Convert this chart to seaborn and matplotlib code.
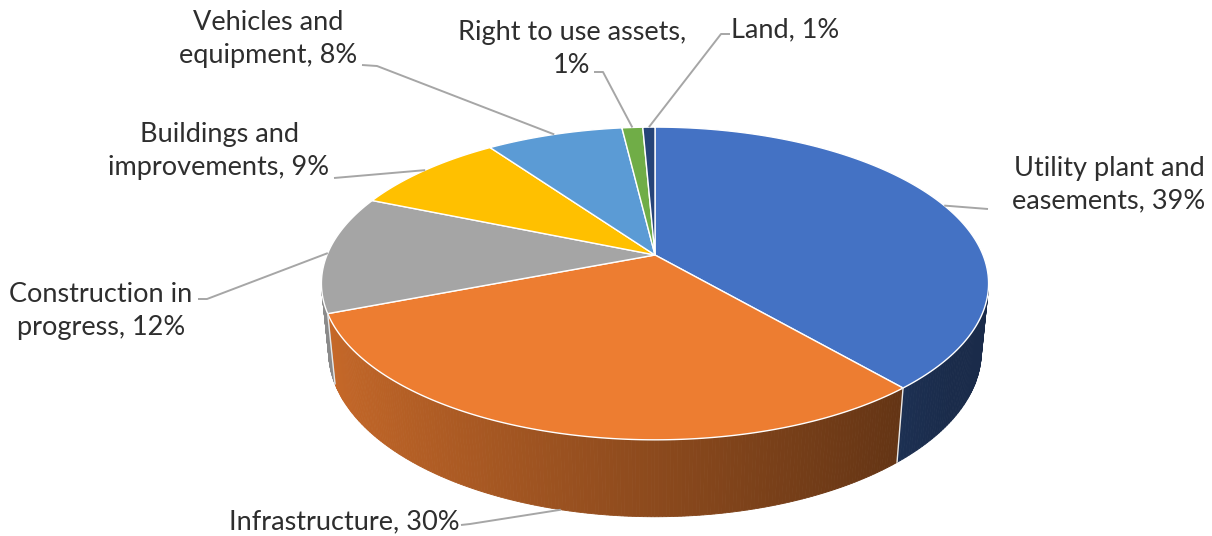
import numpy as np
import matplotlib
matplotlib.use("Agg")
import matplotlib.pyplot as plt
from matplotlib.colors import to_rgb
import seaborn as sns

# --- Data ---
categories = ["Utility plant and\neasements", "Infrastructure", "Construction in\nprogress",
              "Buildings and\nimprovements", "Vehicles and\nequipment",
              "Right to use assets", "Land"]
shares = [38.7, 30.4, 12.2, 8.9, 7.9, 1.2, 0.7]   # percent of total capital assets
label_sep = [", ", ", ", ", ", ", ", ", ", ",\n", ", "]

# Office-style palette
slice_colors = sns.color_palette(["#4472C4", "#ED7D31", "#A5A5A5", "#FFC000",
                                  "#5B9BD5", "#70AD47", "#264478"])

# --- Layout (pixels) ---
HUB = (655, 255)          # where the slices meet on screen
FOCAL = 1630              # perspective scale
X_SQUEEZE = 0.985         # slight horizontal squeeze of the drawing
DIST = 4.895              # camera distance (in pie radii)
ELEV = np.radians(27)     # camera elevation
THICK = 0.231             # pie thickness (in pie radii)

# label block centres and leader polylines (label side); the leader end is on the slice rim
label_pos = [(1109, 185), (344, 522), (101, 311), (219, 151), (268, 39), (572, 49), (785, 30)]
leader_start = [[(988, 209)], [(461, 525), (470, 524)], [(198, 299), (207, 299)],
                [(334, 178)], [(362, 65), (377, 66)], [(594, 72), (603, 72)],
                [(730, 34), (721, 34)]]
anchor_bottom = [False, True, False, False, False, False, False]


def project(t, z=0.0):
    """Project a point of the unit pie rim (angle t, height z) to pixels."""
    c, s = np.cos(ELEV), np.sin(ELEV)
    x, y = np.cos(t), np.sin(t)
    depth = DIST + y * c - z * s
    up = y * s + z * c
    return HUB[0] + X_SQUEEZE * FOCAL * x / depth, HUB[1] - FOCAL * up / depth


sns.set_theme(style="white")
plt.rcParams["font.family"] = ["Lato", "DejaVu Sans"]

fig = plt.figure(figsize=(12.12, 5.36), dpi=100)
ax = fig.add_axes([0, 0, 1, 1])
ax.set_xlim(0, 1212)
ax.set_ylim(536, 0)
ax.axis("off")

# slice edges, clockwise from 12 o'clock
edges = np.radians(90 - 360 * np.concatenate([[0], np.cumsum(shares)]) / np.sum(shares))
visible_limit = -1 / (DIST * np.cos(ELEV))   # side wall faces the camera when sin(t) < this

# side wall, drawn in thin shaded strips
for i, col in enumerate(slice_colors):
    ts = np.linspace(edges[i], edges[i + 1], 200)
    base = np.array(to_rgb(col))
    for t0, t1 in zip(ts[:-1], ts[1:]):
        tm = 0.5 * (t0 + t1)
        if np.sin(tm) >= visible_limit:
            continue
        shade = np.clip(0.59 - 0.26 * np.cos(tm), 0.38, 0.9)
        xa, ya = project(t0)
        xb, yb = project(t1)
        xc, yc = project(t1, -THICK)
        xd, yd = project(t0, -THICK)
        ax.fill([xa, xb, xc, xd], [ya, yb, yc, yd], color=base * shade, lw=0.6,
                edgecolor=base * shade)

# light seams on the side between slices
for t in edges:
    if np.sin(t) < visible_limit:
        xa, ya = project(t)
        xd, yd = project(t, -THICK)
        ax.plot([xa, xd], [ya, yd], color="#E8E8E8", lw=1.0)

# top face
for i, col in enumerate(slice_colors):
    ts = np.linspace(edges[i], edges[i + 1], 300)
    xs, ys = project(ts)
    ax.fill(np.r_[HUB[0], xs], np.r_[HUB[1], ys], facecolor=col,
            edgecolor="white", lw=1.0, joinstyle="round")

# labels and leader lines
for i, name in enumerate(categories):
    pct = int(round(shares[i]))
    ax.text(label_pos[i][0], label_pos[i][1], f"{name}{label_sep[i]}{pct}%",
            ha="center", va="center", multialignment="center",
            fontsize=19.5, color="#2E2E2E", linespacing=1.36)
    mid = 0.5 * (edges[i] + edges[i + 1])
    end = project(mid, -THICK if anchor_bottom[i] else 0.0)
    pts = leader_start[i] + [end]
    ax.plot([p[0] for p in pts], [p[1] for p in pts], color="#A6A6A6", lw=1.4,
            solid_capstyle="butt")

fig.savefig("out.png", dpi=100)
